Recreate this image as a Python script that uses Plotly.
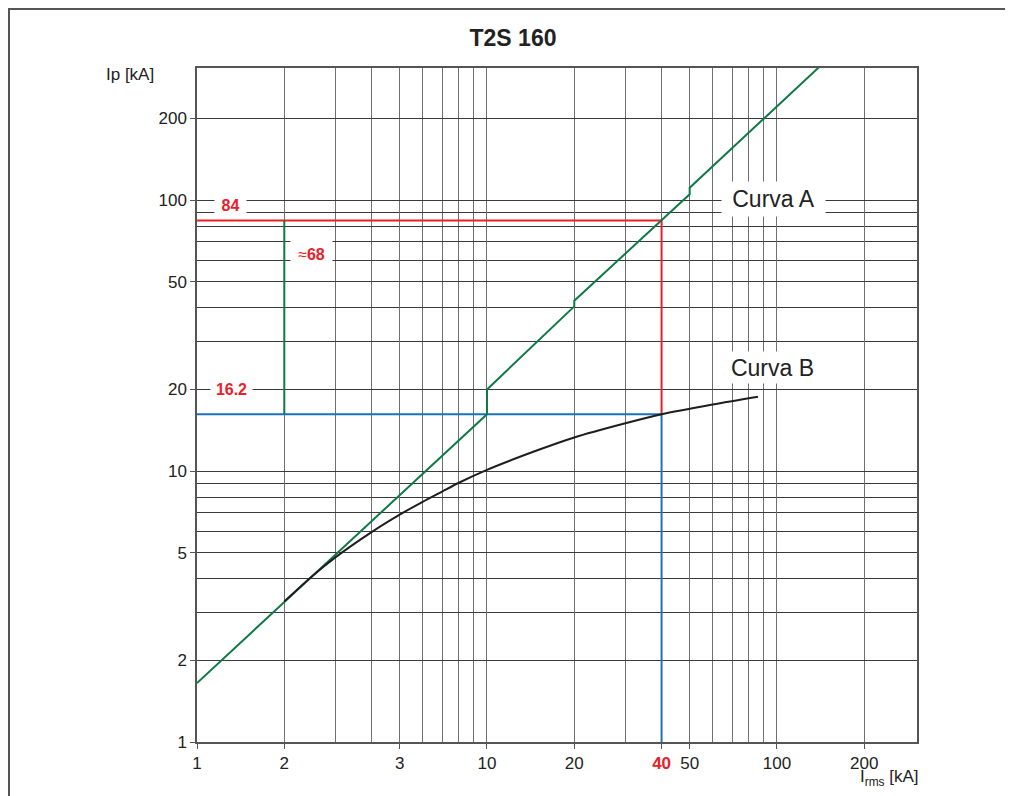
import plotly.graph_objects as go
import math

# ---------------- data ----------------
curve_a_x = [1, 10, 10, 20, 20, 50, 50, 140]
curve_a_y = [1.65, 16.2, 20, 40.5, 42.5, 105, 111, 310]

curve_b_x = [2, 2.5, 3, 4, 5, 6, 7, 8, 10, 15, 20, 30, 40, 60, 86]
curve_b_y = [3.3, 4.1, 4.8, 5.95, 6.9, 7.7, 8.4, 9.05, 10.1, 11.95, 13.3, 15.0, 16.2, 17.6, 18.8]

red_x = [1, 40, 40]
red_y = [84, 84, 16.2]
blue_x = [1, 40, 40]
blue_y = [16.2, 16.2, 1]
green_v_x = [2, 2]
green_v_y = [16.2, 84]

x_tickvals = [1, 2, 5, 10, 20, 40, 50, 100, 200]
x_ticktext = ["1", "2", "3", "10", "20",
              "<b><span style='color:#e8202a'>40</span></b>", "50", "100", "200"]
x_minor = [3, 4, 6, 7, 8, 9, 30, 60, 70, 80, 90]
y_tickvals = [1, 2, 5, 10, 20, 50, 100, 200]
y_ticktext = ["1", "2", "5", "10", "20", "50", "100", "200"]
y_minor = [3, 4, 6, 7, 8, 9, 30, 40, 60, 70, 80, 90]

# ---------------- layout helpers ----------------
OFF = 8  # page body margin
W, H = 1013 - OFF, 796 - OFF
# plot area in page pixels
L, R, T, B = 197, 917, 68, 742


def px(x, y):
    return (x - L) / (R - L), (B - y) / (B - T)


RED = "#e8202a"
GREEN = "#0f7a45"
BLUE = "#1b72bb"
FONT = "Liberation Sans, Arial, sans-serif"

fig = go.Figure()
fig.add_trace(go.Scatter(x=blue_x, y=blue_y, mode="lines",
                         line=dict(color=BLUE, width=2), hoverinfo="skip"))
fig.add_trace(go.Scatter(x=red_x, y=red_y, mode="lines",
                         line=dict(color=RED, width=2), hoverinfo="skip"))
fig.add_trace(go.Scatter(x=green_v_x, y=green_v_y, mode="lines",
                         line=dict(color=GREEN, width=2), hoverinfo="skip"))
fig.add_trace(go.Scatter(x=curve_a_x, y=curve_a_y, mode="lines",
                         line=dict(color=GREEN, width=2), hoverinfo="skip"))
fig.add_trace(go.Scatter(x=curve_b_x, y=curve_b_y, mode="lines",
                         line=dict(color="#1e1e1e", width=2, shape="spline", smoothing=0.8),
                         hoverinfo="skip"))

annotations = []


def ann(text, x, y, size=17, color="#222", bg=None, w=None, h=None, **kw):
    ax, ay = px(x, y)
    d = dict(text=text, x=ax, y=ay, xref="paper", yref="paper", showarrow=False,
             font=dict(size=size, color=color, family=FONT),
             xanchor="center", yanchor="middle")
    if bg:
        d["bgcolor"] = bg
        d["borderpad"] = 0
    if w:
        d["width"] = w
    if h:
        d["height"] = h
    d.update(kw)
    annotations.append(d)


ann("<b>84</b>", 230, 205, size=16, color=RED, bg="white", w=31, h=22)
ann("≈<b>68</b>", 311, 254, size=16, color=RED, bg="white", w=41, h=30)
ann("<b>16.2</b>", 231, 389, size=16, color=RED, bg="white", w=41, h=20)
ann("Curva A", 773, 199, size=23, color="#222", bg="white", w=103, h=34)
ann("Curva B", 772, 367, size=23, color="#222", bg="white", w=103, h=31)
ann("Ip [kA]", 130, 75, size=17)
ann("I<sub>rms</sub> [kA]", 889, 778, size=17)

x0, y0 = px(9, 830)
x1, y1 = px(1040, 9)
fig.add_shape(type="rect", xref="paper", yref="paper", x0=x0, y0=y0, x1=x1, y1=y1,
              line=dict(color="#555", width=2), layer="below")

axis_common = dict(
    type="log", showline=True, mirror=True, linecolor="#555", linewidth=1.5,
    ticks="outside", ticklen=5, tickcolor="#555", tickwidth=1,
    tickfont=dict(size=17, color="#222", family=FONT),
    showgrid=True, zeroline=False, tickmode="array",
)

fig.update_layout(
    width=W, height=H,
    margin=dict(l=L - OFF, r=W - (R - OFF), t=T - OFF, b=H - (B - OFF), autoexpand=False),
    paper_bgcolor="white", plot_bgcolor="white",
    showlegend=False,
    font=dict(family=FONT, color="#222"),
    title=dict(text="<b>T2S 160</b>", x=(513 - OFF) / W, y=1 - (38 - OFF) / H,
               xanchor="center", yanchor="middle",
               font=dict(size=23, color="#222", family=FONT)),
    xaxis=dict(axis_common, range=[0, math.log10(304)],
               tickvals=x_tickvals, ticktext=x_ticktext,
               gridcolor="#707070", gridwidth=1,
               minor=dict(tickmode="array", tickvals=x_minor, showgrid=True,
                          gridcolor="#707070", gridwidth=1, ticks="")),
    yaxis=dict(axis_common, range=[0, math.log10(307)],
               tickvals=y_tickvals, ticktext=y_ticktext,
               gridcolor="#3a3a3a", gridwidth=1,
               minor=dict(tickmode="array", tickvals=y_minor, showgrid=True,
                          gridcolor="#3a3a3a", gridwidth=1, ticks="")),
    annotations=annotations,
)

fig.write_html("out.html")
